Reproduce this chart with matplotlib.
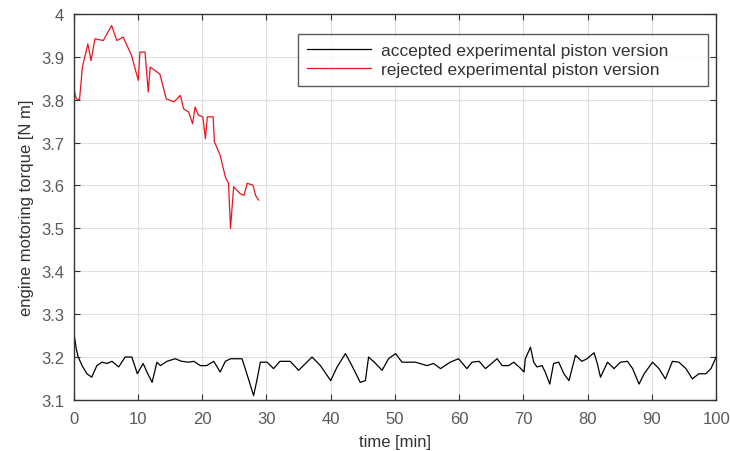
import matplotlib
matplotlib.use("Agg")
import matplotlib.pyplot as plt

# accepted piston version (black)
t_acc = [0.0, 0.4, 0.7, 1.3, 2.05, 2.8, 3.6, 4.4, 5.2, 5.95, 7.0, 8.0, 9.05, 9.9,
         10.8, 11.4, 12.2, 12.95, 13.5, 14.5, 15.8, 16.8, 17.9, 18.7, 19.7, 20.7,
         21.8, 22.8, 23.6, 24.4, 26.2, 27.2, 28.0, 28.5, 29.05, 30.1, 31.1, 32.1,
         33.7, 35.0, 37.1, 38.4, 40.0, 41.0, 42.3, 43.3, 44.6, 45.4, 45.9, 47.0,
         48.0, 49.0, 50.1, 51.1, 53.2, 55.0, 56.0, 57.1, 58.6, 59.9, 61.2, 62.0,
         63.1, 64.1, 65.9, 66.7, 67.7, 68.5, 69.6, 70.1, 70.3, 71.1, 71.6, 72.1,
         72.9, 73.4, 74.1, 74.7, 75.5, 76.3, 77.1, 78.1, 79.1, 79.9, 81.0, 81.5,
         82.0, 83.1, 84.1, 85.1, 86.2, 87.0, 88.0, 88.8, 90.1, 91.1, 92.1, 93.2,
         94.2, 95.3, 96.3, 97.3, 98.4, 99.2, 100.0]
torque_acc = [3.258, 3.219, 3.2, 3.18, 3.161, 3.153, 3.18, 3.188, 3.185, 3.19, 3.177,
              3.2, 3.2, 3.161, 3.185, 3.165, 3.141, 3.188, 3.18, 3.19, 3.196, 3.19,
              3.188, 3.19, 3.18, 3.18, 3.19, 3.165, 3.19, 3.196, 3.196, 3.149, 3.11,
              3.145, 3.188, 3.188, 3.173, 3.19, 3.19, 3.169, 3.2, 3.18, 3.145, 3.177,
              3.208, 3.18, 3.141, 3.145, 3.2, 3.185, 3.169, 3.196, 3.208, 3.188,
              3.188, 3.18, 3.185, 3.173, 3.188, 3.196, 3.173, 3.188, 3.19, 3.173,
              3.196, 3.18, 3.18, 3.188, 3.173, 3.165, 3.196, 3.223, 3.188, 3.177,
              3.18, 3.165, 3.137, 3.185, 3.188, 3.161, 3.145, 3.204, 3.19, 3.196,
              3.21, 3.185, 3.153, 3.188, 3.173, 3.188, 3.19, 3.173, 3.137, 3.161,
              3.188, 3.173, 3.149, 3.19, 3.188, 3.173, 3.149, 3.161, 3.161, 3.173,
              3.2]

# rejected piston version (red)
t_rej = [0.0, 0.4, 0.9, 1.35, 2.2, 2.7, 3.3, 4.6, 5.9, 6.7, 7.7, 9.0, 10.05, 10.3,
         11.1, 11.6, 11.9, 13.4, 14.4, 15.6, 16.6, 17.1, 17.9, 18.5, 18.9, 19.4,
         20.1, 20.5, 20.8, 21.7, 21.9, 22.8, 23.6, 24.1, 24.4, 24.6, 24.9, 25.9,
         26.5, 27.0, 27.9, 28.3, 28.8]
torque_rej = [3.826, 3.802, 3.80, 3.876, 3.930, 3.891, 3.942, 3.938, 3.973, 3.938,
              3.946, 3.903, 3.845, 3.911, 3.911, 3.818, 3.876, 3.860, 3.802, 3.795,
              3.810, 3.779, 3.771, 3.744, 3.783, 3.764, 3.760, 3.709, 3.760, 3.760,
              3.702, 3.670, 3.620, 3.605, 3.50, 3.539, 3.597, 3.581, 3.577, 3.605,
              3.601, 3.577, 3.566]

x_ticks = list(range(0, 101, 10))
y_ticks = [3.1, 3.2, 3.3, 3.4, 3.5, 3.6, 3.7, 3.8, 3.9, 4.0]
y_labels = ["3.1", "3.2", "3.3", "3.4", "3.5", "3.6", "3.7", "3.8", "3.9", "4"]

plt.rcParams["font.family"] = ["Liberation Sans", "DejaVu Sans"]

fig = plt.figure(figsize=(7.3, 4.52), dpi=100)
ax = fig.add_axes([0.101, 0.113, 0.880, 0.854])

ax.plot(t_acc, torque_acc, color="black", lw=0.9,
        label="accepted experimental piston version")
ax.plot(t_rej, torque_rej, color="#e8141e", lw=0.9,
        label="rejected experimental piston version")

ax.set_xlim(0, 100)
ax.set_ylim(3.1, 4.0)
ax.set_xticks(x_ticks)
ax.set_yticks(y_ticks)
ax.set_yticklabels(y_labels)
ax.grid(True, color="#e0e0e0", lw=0.8)
ax.tick_params(direction="in", top=True, right=True, length=4,
               labelsize=12, labelcolor="#5a5a5a", color="#333333")
ax.tick_params(axis="x", pad=8)
ax.tick_params(axis="y", pad=7)
for s in ax.spines.values():
    s.set_color("#333333")
    s.set_linewidth(1.0)

ax.set_xlabel("time [min]", fontsize=12, color="#333333", labelpad=6)
ax.set_ylabel("engine motoring torque [N m]", fontsize=12, color="#333333",
              labelpad=5)

# MATLAB-style legend box: wider than its text, padded on the right
leg = ax.legend(loc="upper left", bbox_to_anchor=(0.349, 0.948, 0.6385, 0),
                mode="expand", fontsize=12.5, handlelength=3.7,
                handletextpad=0.6, frameon=True, fancybox=False,
                borderpad=0.5, labelspacing=0.25, borderaxespad=0)
leg.get_frame().set_edgecolor("#333333")
leg.get_frame().set_linewidth(1.0)
for txt in leg.get_texts():
    txt.set_color("#333333")

fig.savefig("out.png", dpi=100)
